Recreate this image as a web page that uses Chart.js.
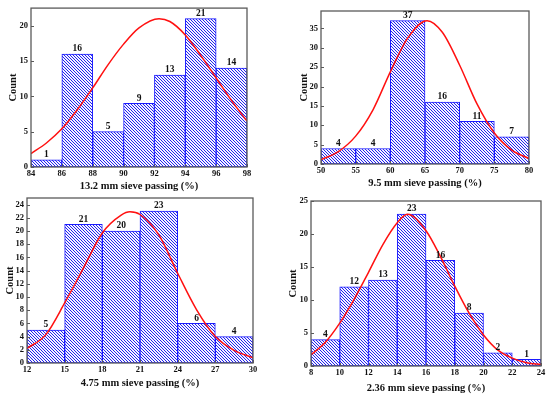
<!DOCTYPE html>
<html lang="en">
<head>
<meta charset="UTF-8">
<title>Sieve passing histograms</title>
<style>
    body { margin: 0; background: #fff; }
    #wrap { position: relative; width: 550px; height: 398px; }
    #wrap canvas { position: absolute; left: 0; top: 0; }
</style>
</head>
<body>
<div id="wrap">
    <canvas id="c1" width="550" height="398"></canvas>
    <canvas id="c2" width="550" height="398"></canvas>
    <canvas id="c3" width="550" height="398"></canvas>
    <canvas id="c4" width="550" height="398"></canvas>
</div>

<script src="https://cdn.jsdelivr.net/npm/chart.js"></script>
<script>
    // 13.2 mm sieve
    const centers1 = [85, 87, 89, 91, 93, 95, 97];
    const counts1 = [1, 16, 5, 9, 13, 21, 14];
    const fitX1 = [84, 85, 86, 87, 88, 89, 90, 91, 92.3, 93, 94, 95, 96, 97, 98];
    const fitY1 = [1.9, 3.4, 5.4, 8.1, 11.2, 14.5, 17.4, 19.7, 21.0, 20.6, 18.7, 15.8, 12.6, 9.4, 6.5];

    // 9.5 mm sieve
    const centers2 = [52.5, 57.5, 62.5, 67.5, 72.5, 77.5];
    const counts2 = [4, 4, 37, 16, 11, 7];
    const fitX2 = [50, 52.5, 55, 57.5, 60, 62.5, 65.3, 67.5, 70, 72.5, 75, 77.5, 80];
    const fitY2 = [1.1, 3.2, 7.2, 14.0, 23.8, 32.5, 37.0, 34.0, 25.5, 15.5, 8.0, 3.6, 1.4];

    // 4.75 mm sieve
    const centers3 = [13.5, 16.5, 19.5, 22.5, 25.5, 28.5];
    const counts3 = [5, 21, 20, 23, 6, 4];
    const fitX3 = [12, 13.5, 15, 16.5, 18, 19.5, 20.2, 21, 22.5, 24, 25.5, 27, 28.5, 30];
    const fitY3 = [2.2, 4.3, 9.1, 14.4, 19.7, 22.4, 22.9, 22.5, 19.4, 13.6, 8.1, 4.0, 1.9, 0.8];

    // 2.36 mm sieve
    const centers4 = [9, 11, 13, 15, 17, 19, 21, 23];
    const counts4 = [4, 12, 13, 23, 16, 8, 2, 1];
    const fitX4 = [8, 9, 10, 11, 12, 13, 14, 14.7, 16, 17, 18, 19, 20, 21, 22, 23, 24];
    const fitY4 = [1.7, 3.6, 6.5, 10.1, 14.2, 18.4, 21.7, 23.0, 20.5, 16.6, 12.1, 8.0, 4.7, 2.4, 1.2, 0.5, 0.25];

    const xTitles = ['13.2 mm sieve passing (%)', '9.5 mm sieve passing (%)',
        '4.75 mm sieve passing (%)', '2.36 mm sieve passing (%)'];

    const serif = "'Liberation Serif', 'Times New Roman', serif";

    // hatched fill for the bars
    function hatch() {
        const c = document.createElement('canvas');
        c.width = 3;
        c.height = 3;
        const g = c.getContext('2d');
        g.fillStyle = '#f4f4ff';
        g.fillRect(0, 0, 3, 3);
        g.strokeStyle = '#2222ee';
        g.lineWidth = 1;
        g.beginPath();
        g.moveTo(-1, -1); g.lineTo(4, 4);
        g.moveTo(-1, 2); g.lineTo(1, 4);
        g.moveTo(2, -1); g.lineTo(4, 1);
        g.stroke();
        return g.createPattern(c, 'repeat');
    }

    // frame round the plot area with inward ticks
    const framePlugin = {
        id: 'frame',
        afterDatasetsDraw(chart) {
            const {ctx, chartArea: a, scales} = chart;
            ctx.save();
            ctx.strokeStyle = '#5a5a5a';
            ctx.lineWidth = 1.3;
            ctx.strokeRect(a.left, a.top, a.right - a.left, a.bottom - a.top);
            ctx.lineWidth = 1;
            ctx.beginPath();
            scales.x.ticks.forEach(t => {
                const px = Math.round(scales.x.getPixelForValue(t.value)) + 0.5;
                ctx.moveTo(px, a.bottom);
                ctx.lineTo(px, a.bottom - 3);
            });
            scales.y.ticks.forEach(t => {
                const py = Math.round(scales.y.getPixelForValue(t.value)) + 0.5;
                ctx.moveTo(a.left, py);
                ctx.lineTo(a.left + 3, py);
            });
            ctx.stroke();
            ctx.restore();
        }
    };

    // count written above each bar
    const countLabels = {
        id: 'countLabels',
        afterDraw(chart) {
            const ctx = chart.ctx;
            const meta = chart.getDatasetMeta(0);
            ctx.save();
            ctx.fillStyle = '#111';
            ctx.font = 'bold 9.5px ' + serif;
            ctx.textAlign = 'center';
            ctx.textBaseline = 'bottom';
            meta.data.forEach((bar, i) => {
                ctx.fillText(chart.data.datasets[0].data[i].y, bar.x, bar.y - 0.5);
            });
            ctx.restore();
        }
    };

    function createChart(id, p) {
        const pattern = hatch();
        return new Chart(document.getElementById(id), {
            type: 'bar',
            data: {
                datasets: [
                    {
                        type: 'bar',
                        data: p.centers.map((x, i) => ({x: x, y: p.counts[i]})),
                        backgroundColor: pattern,
                        borderColor: '#1a1aff',
                        borderWidth: 1,
                        borderSkipped: false,
                        barPercentage: 1,
                        categoryPercentage: 1,
                        order: 2
                    },
                    {
                        type: 'line',
                        data: p.fitX.map((x, i) => ({x: x, y: p.fitY[i]})),
                        borderColor: '#ff1010',
                        borderWidth: 1.5,
                        pointRadius: 0,
                        cubicInterpolationMode: 'monotone',
                        fill: false,
                        order: 1
                    }
                ]
            },
            options: {
                responsive: false,
                animation: false,
                devicePixelRatio: 1,
                layout: {
                    padding: {left: p.regionLeft, top: p.top, right: 550 - p.right, bottom: 398 - p.regionBottom}
                },
                plugins: {legend: {display: false}, tooltip: {enabled: false}},
                scales: {
                    x: {
                        type: 'linear',
                        offset: false,
                        min: p.xMin,
                        max: p.xMax,
                        grid: {display: false, drawTicks: false},
                        border: {display: false},
                        ticks: {
                            stepSize: p.xStep,
                            autoSkip: false,
                            maxRotation: 0,
                            padding: 2,
                            color: '#111',
                            font: {family: serif, size: 8.5, weight: 'bold'}
                        },
                        title: {
                            display: true,
                            text: p.title,
                            color: '#111',
                            font: {family: serif, size: 10.5, weight: 'bold'},
                            padding: {top: 0, bottom: p.xTitlePad}
                        },
                        afterFit: s => { s.height = p.regionBottom - p.bottom; }
                    },
                    y: {
                        min: 0,
                        max: p.yMax,
                        grid: {display: false, drawTicks: false},
                        border: {display: false},
                        ticks: {
                            stepSize: p.yStep,
                            includeBounds: false,
                            maxTicksLimit: 50,
                            padding: 3,
                            color: '#111',
                            font: {family: serif, size: 8.5, weight: 'bold'}
                        },
                        title: {
                            display: true,
                            text: 'Count',
                            color: '#111',
                            font: {family: serif, size: 10.5, weight: 'bold'},
                            padding: {top: p.yTitlePad, bottom: 0}
                        },
                        afterFit: s => { s.width = p.left - p.regionLeft; }
                    }
                }
            },
            plugins: [framePlugin, countLabels]
        });
    }

    createChart('c1', {
        centers: centers1, counts: counts1, fitX: fitX1, fitY: fitY1, title: xTitles[0],
        xMin: 84, xMax: 98, xStep: 2, yMax: 22.5, yStep: 5,
        regionLeft: 0, regionBottom: 198, left: 31, top: 7, right: 247, bottom: 167,
        yTitlePad: 7, xTitlePad: 5
    });
    createChart('c2', {
        centers: centers2, counts: counts2, fitX: fitX2, fitY: fitY2, title: xTitles[1],
        xMin: 50, xMax: 80, xStep: 5, yMax: 39.5, yStep: 5,
        regionLeft: 275, regionBottom: 198, left: 321, top: 11, right: 529, bottom: 164,
        yTitlePad: 23, xTitlePad: 8
    });
    createChart('c3', {
        centers: centers3, counts: counts3, fitX: fitX3, fitY: fitY3, title: xTitles[2],
        xMin: 12, xMax: 30, xStep: 3, yMax: 25, yStep: 2,
        regionLeft: 0, regionBottom: 398, left: 27, top: 198, right: 253, bottom: 363,
        yTitlePad: 3.5, xTitlePad: 8
    });
    createChart('c4', {
        centers: centers4, counts: counts4, fitX: fitX4, fitY: fitY4, title: xTitles[3],
        xMin: 8, xMax: 24, xStep: 2, yMax: 25, yStep: 5,
        regionLeft: 275, regionBottom: 398, left: 311, top: 201, right: 541, bottom: 366,
        yTitlePad: 12, xTitlePad: 3.5
    });
</script>
</body>
</html>
